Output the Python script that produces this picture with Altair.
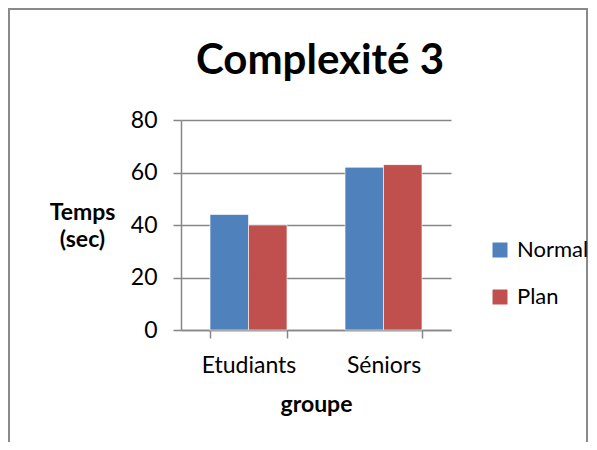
import altair as alt
import pandas as pd

groups = ["Etudiants", "Séniors"]
series = ["Normale", "Plan"]
normale = [44, 62]
plan = [40, 63]
colors = ["#4F81BD", "#C0504D"]
y_ticks = [0, 20, 40, 60, 80]

rows = []
for i, g in enumerate(groups):
    rows.append({"groupe": g, "serie": series[0], "temps": normale[i]})
    rows.append({"groupe": g, "serie": series[1], "temps": plan[i]})
df = pd.DataFrame(rows)

FONT = "Lato"
GRAY = "#878787"

bars = alt.Chart(df).mark_bar(stroke="white", strokeWidth=0.6).encode(
    x=alt.X("groupe:N", sort=groups,
            scale=alt.Scale(paddingInner=0.43, paddingOuter=0.215),
            axis=alt.Axis(title="groupe", labelAngle=0, tickBand="extent",
                          grid=False, domainColor=GRAY, tickColor=GRAY,
                          tickSize=8, domainWidth=1.5, tickWidth=1.5,
                          labelFont=FONT, labelFontSize=23, labelColor="black",
                          labelPadding=16, titleFont=FONT, titleFontSize=23,
                          titleFontWeight="bold", titleColor="black",
                          titlePadding=16)),
    xOffset=alt.XOffset("serie:N", sort=series),
    y=alt.Y("temps:Q", scale=alt.Scale(domain=[0, 80], nice=False),
            axis=alt.Axis(values=y_ticks, title=["Temps", "(sec)"],
                          titleAngle=0, titleAlign="center",
                          titleBaseline="alphabetic", titleX=-99, titleY=99,
                          titleLineHeight=27, titleFont=FONT, titleFontSize=23,
                          titleFontWeight="bold", titleColor="black",
                          domainColor=GRAY, tickColor=GRAY, gridColor=GRAY,
                          tickSize=8, domainWidth=1.5, tickWidth=1.5,
                          gridWidth=1.5, labelFont=FONT, labelFontSize=23,
                          labelColor="black", labelPadding=16)),
    color=alt.Color("serie:N", sort=series,
                    scale=alt.Scale(domain=series, range=colors),
                    legend=alt.Legend(title=None, orient="none", legendX=308,
                                      legendY=119, symbolType="square",
                                      symbolSize=225, symbolStrokeWidth=0,
                                      labelFont=FONT, labelFontSize=22,
                                      labelColor="black", labelOffset=6,
                                      rowPadding=25, padding=0)),
)

frame = alt.Chart(pd.DataFrame({"a": [0]})).mark_rect(
    filled=False, stroke="#8a8a8a", strokeWidth=2, clip=False
).encode(
    x=alt.value(-172), x2=alt.value(406),
    y=alt.value(-111), y2=alt.value(400),
)

chart = alt.layer(frame, bars).properties(
    width=270,
    height=210,
    title=alt.TitleParams("Complexité 3", font=FONT, fontSize=42,
                          fontWeight="bold", color="black", anchor="middle",
                          frame="group", dx=4, offset=0, dy=108,
                          baseline="alphabetic"),
    autosize=alt.AutoSizeParams(type="none"),
    padding={"left": 173, "top": 112, "right": 138, "bottom": 112},
    background="white",
).configure_view(stroke=None)

chart.save("out.html", embed_options={"renderer": "svg", "actions": False})
